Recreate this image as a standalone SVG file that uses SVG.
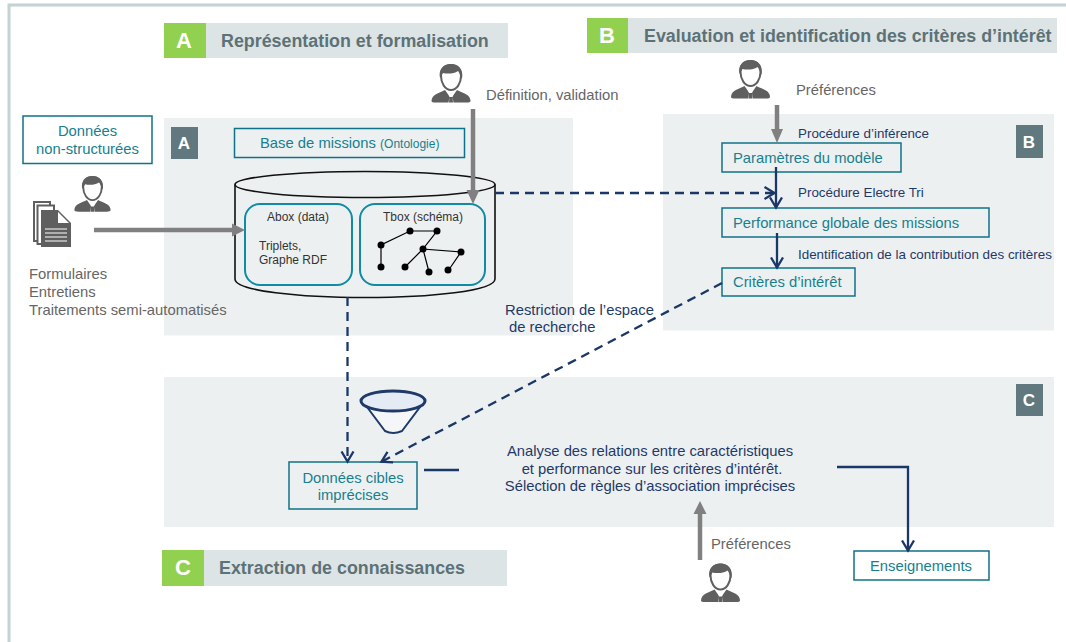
<svg xmlns="http://www.w3.org/2000/svg" width="1066" height="642" viewBox="0 0 1066 642">
<style>
text{font-family:"Liberation Sans",Arial,sans-serif}
.panel{fill:#edf0f1}
.band{fill:#dde4e6}
.green{fill:#92d050}
.slate{fill:#61797e}
.bl{fill:#fff;font-weight:700;font-size:22px;text-anchor:middle}
.bs{fill:#fff;font-weight:700;font-size:17px;text-anchor:middle}
.title{fill:#5c7277;font-weight:700;font-size:17.85px}
.box{fill:none;stroke:#0f7288;stroke-width:1.5}
.tb{fill:#17808f;font-size:14.8px}
.gr{fill:#666;font-size:14.8px}
.nv{fill:#1f3a68;font-size:14.8px}
.nvs{fill:#1f3a68;font-size:13.4px}
.bk{fill:#333;font-size:12px}
.cyl{fill:none;stroke:#111;stroke-width:1.6}
.inner{fill:none;stroke:#108ba3;stroke-width:2}
.gline{fill:none;stroke:#808080;stroke-width:4.500}
.nline{fill:none;stroke:#1a3768;stroke-width:2.300}
.dash{stroke-dasharray:9 6}
.person{fill:#5f5f5f}
.g{stroke:#000;stroke-width:1.2;fill:none}
.d{fill:#000}
</style>
<defs>
<marker id="na" markerUnits="userSpaceOnUse" markerWidth="14" markerHeight="16" refX="11.500" refY="7" orient="auto"><path d="M1 1L11 7L1 13" fill="none" stroke="#1a3768" stroke-width="2.300"/></marker>
<g id="p">
<path class="person" d="M-19.500 17C-19.500 10-11 9-6 6L-2.500 11L-1.500 13L-2.500 18.500H-15C-18 18.500-19.500 18-19.500 17ZM19.500 17C19.500 10 11 9 6 6L2.500 11L1.500 13L2.500 18.500H15C18 18.500 19.500 18 19.500 17ZM-1.500 13H1.500L2 18.500H-2Z"/>
<path d="M-10-8C-10-16-6-19 0-19C6-19 10-15 10-8C10-1 6 6 0 6C-6 6-10-1-10-8Z" fill="#fff" stroke="#5f5f5f" stroke-width="2"/>
<path class="person" d="M-11-6C-13-15-7-20 0-20C7-20 13-15 11-5C9-8 9-11 7-13C3-10-4-10-8-11C-9-9-10-8-11-6Z"/>
</g>
</defs>
<rect width="1066" height="642" fill="#fff"/>
<path d="M1066 5H9V642" fill="none" stroke="#c3d2d3" stroke-width="3"/>

<g id="panels">
<rect class="panel" x="164" y="118" width="409" height="217.500"/>
<rect class="panel" x="663" y="114" width="391" height="216.500"/>
<rect class="panel" x="164" y="377" width="890" height="150"/>
</g>

<g id="header-a"><rect class="band" x="206" y="23" width="302" height="35"/><rect class="green" x="164" y="23" width="42" height="35"/><text class="bl" x="184" y="48">A</text><text class="title" x="221" y="47">Représentation et formalisation</text></g>
<g id="header-b"><rect class="band" x="628" y="18" width="429" height="35"/><rect class="green" x="587" y="18" width="41" height="35"/><text class="bl" x="607" y="43">B</text><text class="title" x="644" y="42">Evaluation et identification des critères d’intérêt</text></g>
<g id="header-c"><rect class="band" x="204" y="550" width="303" height="36"/><rect class="green" x="162" y="550" width="42" height="36"/><text class="bl" x="183" y="575">C</text><text class="title" x="219" y="574">Extraction de connaissances</text></g>

<g id="badge-a"><rect class="slate" x="171" y="127" width="27" height="32"/><text class="bs" x="184" y="149">A</text></g>
<g id="badge-b"><rect class="slate" x="1016" y="125" width="27" height="33"/><text class="bs" x="1029" y="148">B</text></g>
<g id="badge-c"><rect class="slate" x="1016" y="384" width="27" height="32"/><text class="bs" x="1029" y="406">C</text></g>

<g id="donnees-non-structurees"><rect class="box" x="23" y="116" width="129" height="47.500"/><text class="tb" x="87.500" y="136" text-anchor="middle">Données</text><text class="tb" x="87.500" y="154" text-anchor="middle">non-structurées</text></g>

<g id="user-1"><use href="#p" transform="translate(92.500 194.500) scale(.93)"/></g>
<g id="user-2"><use href="#p" transform="translate(451 84)"/></g>
<g id="user-3"><use href="#p" transform="translate(750.500 80)"/></g>
<g id="user-4"><use href="#p" transform="translate(720.500 583.500)"/></g>

<g id="documents">
<path d="M34 202H50V241H34Z" fill="#fff" stroke="#5f5f5f" stroke-width="2"/>
<path d="M37.500 205.500H54V244H37.500Z" fill="#fff" stroke="#5f5f5f" stroke-width="2"/>
<path d="M41 210H58L71 223V247H41Z" fill="#5f5f5f"/>
<path d="M58 212L69 223H58Z" fill="#fff"/>
<path d="M45 229H67M45 233H67M45 237H67M45 241H67" stroke="#fff" stroke-width="1.200"/>
</g>
<g id="sources-label"><text class="gr" x="29" y="279">Formulaires</text><text class="gr" x="29" y="297">Entretiens</text><text class="gr" x="29" y="315">Traitements semi-automatisés</text></g>

<g id="base-de-missions"><rect class="box" x="234.500" y="128.500" width="230" height="29"/><text x="260" y="148" class="tb">Base de missions <tspan font-size="12">(Ontologie)</tspan></text></g>

<g id="cylindre">
<ellipse class="cyl" cx="365" cy="184.500" rx="130" ry="13"/>
<path class="cyl" d="M235 184.500V279C235 291 300 297.500 365 297.500C430 297.500 495 291 495 279V184.500"/>
</g>
<g id="abox"><rect class="inner" x="245" y="204" width="107" height="81" rx="15"/><text class="bk" x="267" y="221">Abox (data)</text><text class="bk" x="259" y="250">Triplets,</text><text class="bk" x="259" y="264">Graphe RDF</text></g>
<g id="tbox"><rect class="inner" x="360" y="204" width="125" height="81" rx="15"/><text class="bk" x="383" y="221">Tbox (schéma)</text>
<path class="g" d="M381 267V245L410 231H437L423 249L461 252L448 271M423 249L405 267M423 249L429 272"/>
<g class="d"><circle cx="381" cy="245" r="3.500"/><circle cx="381" cy="267" r="3.500"/><circle cx="410" cy="231" r="3.500"/><circle cx="437" cy="231" r="3.500"/><circle cx="423" cy="249" r="3.500"/><circle cx="461" cy="252" r="3.500"/><circle cx="405" cy="267" r="3.500"/><circle cx="429" cy="272" r="3.500"/><circle cx="448" cy="270" r="3.500"/></g></g>

<g id="labels">
<text class="gr" x="486" y="100">Définition, validation</text>
<text class="gr" x="796" y="95">Préférences</text>
<text class="gr" x="711" y="549">Préférences</text>
<text class="nvs" x="798" y="138">Procédure d’inférence</text>
<text class="nvs" x="798" y="197">Procédure Electre Tri</text>
<text class="nvs" x="798" y="259">Identification de la contribution des critères</text>
<text class="nv" x="505" y="315">Restriction de l’espace</text>
<text class="nv" x="509" y="332">de recherche</text>
</g>

<g id="parametres"><rect class="box" x="722" y="143" width="179" height="29"/><text class="tb" x="733" y="163">Paramètres du modèle</text></g>
<g id="performance"><rect class="box" x="722" y="208" width="267" height="29"/><text class="tb" x="733" y="228">Performance globale des missions</text></g>
<g id="criteres"><rect class="box" x="722" y="268" width="133" height="28"/><text class="tb" x="733" y="287">Critères d’intérêt</text></g>
<g id="donnees-cibles"><rect class="box" x="289" y="462" width="128" height="47"/><text class="tb" x="353" y="483" text-anchor="middle">Données cibles</text><text class="tb" x="353" y="500" text-anchor="middle">imprécises</text></g>
<g id="enseignements"><rect class="box" x="854" y="551" width="135" height="29"/><text class="tb" x="921" y="571" text-anchor="middle">Enseignements</text></g>

<g id="analyse"><text class="nv" x="650" y="456" text-anchor="middle">Analyse des relations entre caractéristiques</text><text class="nv" x="652" y="474" text-anchor="middle">et performance sur les critères d’intérêt.</text><text class="nv" x="650" y="491" text-anchor="middle">Sélection de règles d’association imprécises</text></g>

<g id="entonnoir">
<path d="M364 403L385 431Q393 435 402 431L423 403Z" fill="#f4f6f7" stroke="#1f3a68" stroke-width="2"/>
<ellipse cx="393" cy="401" rx="32" ry="10" fill="#e4ebf4" stroke="#1f3a68" stroke-width="3"/>
</g>

<g id="connectors">
<path class="gline" d="M94 230H233"/><path d="M232 223.500L245 230L232 236.500Z" fill="#808080"/>
<path class="gline" d="M473 109V191"/><path d="M466.500 190L473 204L479.500 190Z" fill="#808080"/>
<path class="gline" d="M777 105V130"/><path d="M771 129L777 143L783 129Z" fill="#808080"/>
<path class="gline" d="M700 560V513"/><path d="M693.500 514L700 501L706.500 514Z" fill="#808080"/>
<path class="nline dash" d="M495 193H775" marker-end="url(#na)"/>
<path class="nline" d="M776 167V208" marker-end="url(#na)"/>
<path class="nline" d="M777 233V268" marker-end="url(#na)"/>
<path class="nline dash" d="M347.500 297V462" marker-end="url(#na)"/>
<path class="nline dash" d="M722 283L381 462" marker-end="url(#na)"/>
<path class="nline" d="M424 470H459"/>
<path class="nline" d="M837 467H908V551" marker-end="url(#na)"/>
</g>
</svg>
